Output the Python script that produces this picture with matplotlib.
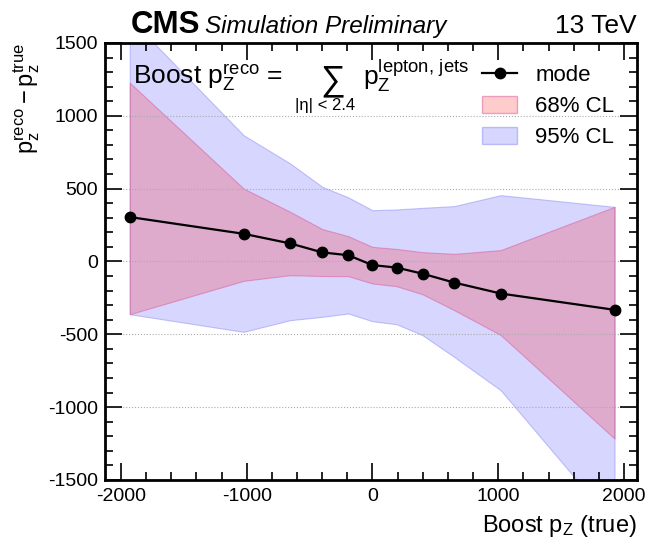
import numpy as np
import matplotlib.pyplot as plt
from matplotlib.lines import Line2D
from matplotlib.patches import Patch
from matplotlib.ticker import MultipleLocator

plt.rcParams['font.family'] = ['Liberation Sans', 'DejaVu Sans']
plt.rcParams['mathtext.fontset'] = 'custom'
plt.rcParams['mathtext.rm'] = 'Liberation Sans'
plt.rcParams['mathtext.it'] = 'Liberation Sans:italic'
plt.rcParams['mathtext.bf'] = 'Liberation Sans:bold'
plt.rcParams['axes.unicode_minus'] = False

# Данные
boost_true = [-1930, -1025, -655, -398, -193, 0, 193, 398, 650, 1020, 1925]
mode = [305, 190, 124, 62, 43, -25, -42, -84, -145, -220, -332]
cl68_up = [1227, 501, 341, 222, 174, 100, 86, 64, 52, 78, 375]
cl68_lo = [-362, -133, -94, -100, -101, -151, -170, -225, -334, -505, -1216]
cl95_up = [1670, 867, 673, 512, 440, 352, 357, 368, 380, 455, 375]
cl95_lo = [-362, -483, -403, -380, -357, -410, -431, -506, -655, -884, -1806]

blue = (0, 0, 1, 0.16)
red = (1, 0, 0, 0.2)

fig = plt.figure(figsize=(6.48, 5.41), dpi=100)
ax = fig.add_axes([0.162, 0.1128, 0.8205, 0.8078])

ax.fill_between(boost_true, cl95_lo, cl95_up, facecolor=blue,
                edgecolor=(0.55, 0.55, 0.95, 0.5), lw=0.8)
ax.fill_between(boost_true, cl68_lo, cl68_up, facecolor=red,
                edgecolor=(0.85, 0.35, 0.6, 0.5), lw=0.8)
ax.plot(boost_true, mode, color='black', lw=1.6, marker='o', ms=7.5)

ax.set_xlim(-2127, 2101)
ax.set_ylim(-1500, 1500)
ax.xaxis.set_major_locator(MultipleLocator(1000))
ax.xaxis.set_minor_locator(MultipleLocator(200))
ax.yaxis.set_major_locator(MultipleLocator(500))
ax.yaxis.set_minor_locator(MultipleLocator(100))
ax.tick_params(which='both', direction='in', top=True, right=True, width=1.2)
ax.tick_params(which='major', length=12, labelsize=14)
ax.tick_params(which='minor', length=6)
ax.tick_params(axis='y', pad=5)
ax.tick_params(axis='x', pad=6)
for s in ax.spines.values():
    s.set_linewidth(2)
ax.yaxis.grid(True, ls=':', color='#aaaaaa', lw=0.8)

# подписи осей
fig.text(27 / 648, 1 - 43 / 541, r'$\mathrm{p_z^{reco} - p_z^{true}}$',
         rotation=90, ha='center', va='top', fontsize=17)
fig.text(637 / 648, 1 - 532 / 541, r'Boost $\mathrm{p_Z}$ (true)',
         ha='right', va='baseline', fontsize=17)

# заголовок
fig.text(131 / 648, 1 - 33 / 541, 'CMS', fontsize=22.5, fontweight='bold',
         ha='left', va='baseline')
fig.text(205 / 648, 1 - 33 / 541, 'Simulation Preliminary', fontsize=17.5,
         style='italic', ha='left', va='baseline')
fig.text(637 / 648, 1 - 33 / 541, '13 TeV', fontsize=19, ha='right', va='baseline')

# формула
ax.text(0.0527, 0.904, r'Boost $\mathrm{p_Z^{reco}}$ =', transform=ax.transAxes,
        fontsize=19, ha='left', va='baseline')
ax.text(0.4055, 0.893, '∑', transform=ax.transAxes, fontsize=25,
        ha='left', va='baseline')
ax.text(0.357, 0.846, '|η| < 2.4', transform=ax.transAxes, fontsize=12,
        ha='left', va='baseline')
ax.text(0.485, 0.904, r'$\mathrm{p_Z^{lepton,\,jets}}$', transform=ax.transAxes,
        fontsize=19, ha='left', va='baseline')

handles = [Line2D([], [], color='black', lw=1.6, marker='o', ms=7.5),
           Patch(facecolor=red, edgecolor=(0.85, 0.35, 0.6, 0.5)),
           Patch(facecolor=blue, edgecolor=(0.55, 0.55, 0.95, 0.5))]
ax.legend(handles, ['mode', '68% CL', '95% CL'], loc='upper left',
          bbox_to_anchor=(0.709, 0.95), frameon=False, fontsize=16,
          borderpad=0, borderaxespad=0, handlelength=1.6, handleheight=0.8,
          handletextpad=0.8, labelspacing=0.45)

fig.savefig('out.png', dpi=100)
